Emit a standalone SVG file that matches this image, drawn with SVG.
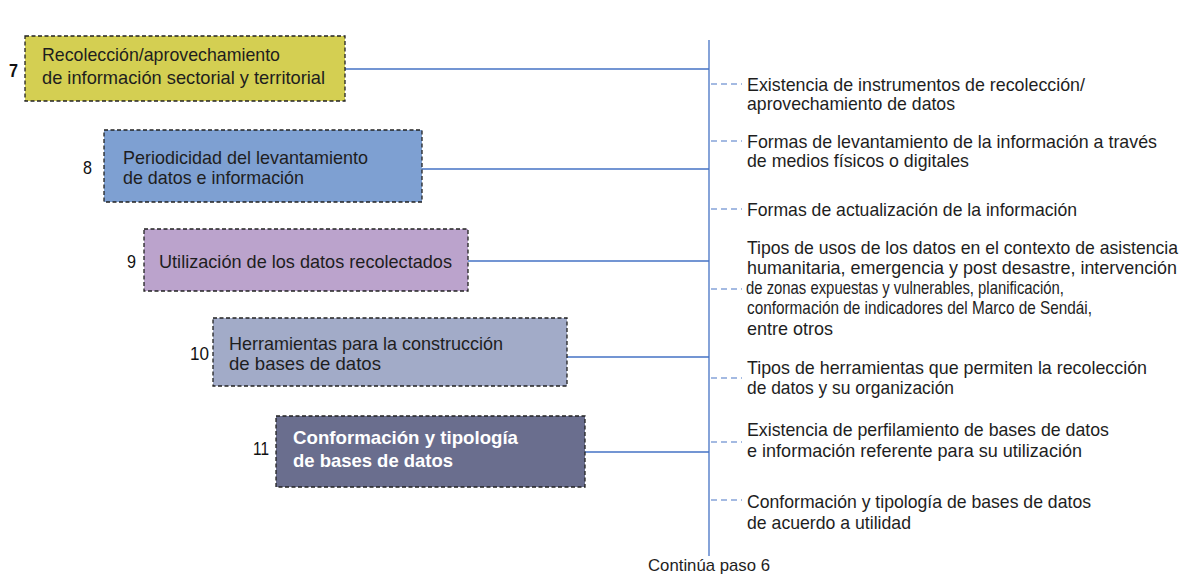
<svg xmlns="http://www.w3.org/2000/svg" width="1183" height="575" viewBox="0 0 1183 575">
<style>
text{font-family:"Liberation Sans",Arial,sans-serif;font-size:19px;fill:#1e1e1e}
.box{stroke:#222222;stroke-width:1.3;stroke-dasharray:4 2.5}
.num{font-size:19px;fill:#111111}
.b{font-weight:bold}
.w{fill:#ffffff;font-weight:bold}
.conn{stroke:#4472c4;stroke-width:1.3;fill:none}
.dash{stroke:#4a76c6;stroke-width:1.2;stroke-dasharray:6 4;fill:none}
</style>
<rect width="1183" height="575" fill="#ffffff"/>
<g id="connectors">
<line class="conn" x1="709" y1="40" x2="709" y2="556"/>
<line class="conn" x1="345" y1="69" x2="709" y2="69"/>
<line class="conn" x1="422" y1="169" x2="709" y2="169"/>
<line class="conn" x1="468" y1="261" x2="709" y2="261"/>
<line class="conn" x1="567" y1="357" x2="709" y2="357"/>
<line class="conn" x1="585" y1="452" x2="709" y2="452"/>
<line class="dash" x1="711" y1="84" x2="742" y2="84"/>
<line class="dash" x1="711" y1="141" x2="742" y2="141"/>
<line class="dash" x1="711" y1="209" x2="742" y2="209"/>
<line class="dash" x1="711" y1="289" x2="742" y2="289"/>
<line class="dash" x1="711" y1="378" x2="742" y2="378"/>
<line class="dash" x1="711" y1="442" x2="742" y2="442"/>
<line class="dash" x1="711" y1="500" x2="742" y2="500"/>
</g>
<g id="n7">
<rect class="box" x="25" y="36" width="320" height="65" fill="#d4cf52"/>
<text class="num b" x="9" y="77" textLength="9" lengthAdjust="spacingAndGlyphs">7</text>
<text x="42" y="61" textLength="238" lengthAdjust="spacingAndGlyphs">Recolección/aprovechamiento</text>
<text x="42" y="84" textLength="283" lengthAdjust="spacingAndGlyphs">de información sectorial y territorial</text>
</g>
<g id="n8">
<rect class="box" x="104" y="130" width="318" height="72" fill="#7ea0d2"/>
<text class="num" x="83" y="174" textLength="9" lengthAdjust="spacingAndGlyphs">8</text>
<text x="123" y="164" textLength="245" lengthAdjust="spacingAndGlyphs">Periodicidad del levantamiento</text>
<text x="123" y="184" textLength="181" lengthAdjust="spacingAndGlyphs">de datos e información</text>
</g>
<g id="n9">
<rect class="box" x="144" y="229" width="324" height="62" fill="#bba3cc"/>
<text class="num" x="127" y="268" textLength="9" lengthAdjust="spacingAndGlyphs">9</text>
<text x="159" y="268" textLength="293" lengthAdjust="spacingAndGlyphs">Utilización de los datos recolectados</text>
</g>
<g id="n10">
<rect class="box" x="213" y="318" width="354" height="68" fill="#a2abc8"/>
<text class="num" x="190" y="360" textLength="19" lengthAdjust="spacingAndGlyphs">10</text>
<text x="229" y="350" textLength="274" lengthAdjust="spacingAndGlyphs">Herramientas para la construcción</text>
<text x="229" y="370" textLength="152" lengthAdjust="spacingAndGlyphs">de bases de datos</text>
</g>
<g id="n11">
<rect class="box" x="276" y="416" width="309" height="71" fill="#6a6e8e"/>
<text class="num" x="253" y="455" textLength="16" lengthAdjust="spacingAndGlyphs">11</text>
<text class="w" x="293" y="444" textLength="225" lengthAdjust="spacingAndGlyphs">Conformación y tipología</text>
<text class="w" x="293" y="467" textLength="160" lengthAdjust="spacingAndGlyphs">de bases de datos</text>
</g>
<g id="items">
<text x="747" y="91" textLength="338" lengthAdjust="spacingAndGlyphs">Existencia de instrumentos de recolección/</text>
<text x="747" y="110" textLength="208" lengthAdjust="spacingAndGlyphs">aprovechamiento de datos</text>
<text x="747" y="148" textLength="410" lengthAdjust="spacingAndGlyphs">Formas de levantamiento de la información a través</text>
<text x="747" y="167" textLength="222" lengthAdjust="spacingAndGlyphs">de medios físicos o digitales</text>
<text x="747" y="216" textLength="330" lengthAdjust="spacingAndGlyphs">Formas de actualización de la información</text>
<text x="747" y="254" textLength="431" lengthAdjust="spacingAndGlyphs">Tipos de usos de los datos en el contexto de asistencia</text>
<text x="747" y="274" textLength="430" lengthAdjust="spacingAndGlyphs">humanitaria, emergencia y post desastre, intervención</text>
<text x="746" y="294" textLength="318" lengthAdjust="spacingAndGlyphs">de zonas expuestas y vulnerables, planificación,</text>
<text x="747" y="314" textLength="345" lengthAdjust="spacingAndGlyphs">conformación de indicadores del Marco de Sendái,</text>
<text x="747" y="335" textLength="86" lengthAdjust="spacingAndGlyphs">entre otros</text>
<text x="747" y="374" textLength="400" lengthAdjust="spacingAndGlyphs">Tipos de herramientas que permiten la recolección</text>
<text x="747" y="394" textLength="207" lengthAdjust="spacingAndGlyphs">de datos y su organización</text>
<text x="747" y="436" textLength="362" lengthAdjust="spacingAndGlyphs">Existencia de perfilamiento de bases de datos</text>
<text x="747" y="457" textLength="335" lengthAdjust="spacingAndGlyphs">e información referente para su utilización</text>
<text x="747" y="508" textLength="344" lengthAdjust="spacingAndGlyphs">Conformación y tipología de bases de datos</text>
<text x="747" y="529" textLength="164" lengthAdjust="spacingAndGlyphs">de acuerdo a utilidad</text>
<text x="648" y="571" style="font-size:17px" textLength="122" lengthAdjust="spacingAndGlyphs">Continúa paso 6</text>
</g>
</svg>
